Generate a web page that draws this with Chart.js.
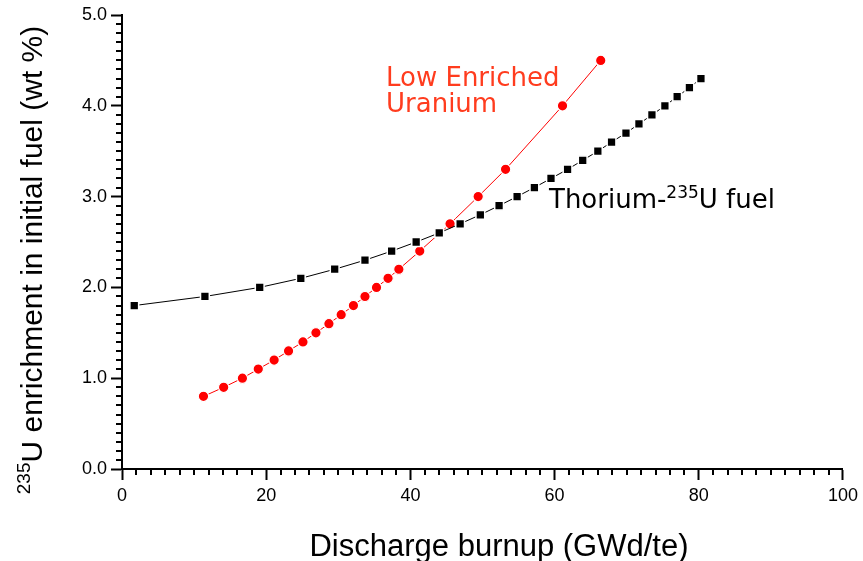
<!DOCTYPE html>
<html>
<head>
<meta charset="utf-8">
<script src="https://cdn.jsdelivr.net/npm/chart.js@4/dist/chart.umd.min.js"></script>
<style>
  html, body { margin: 0; padding: 0; background: #fff; }
  #wrap { width: 863px; height: 561px; }
</style>
</head>
<body>
<div id="wrap"><canvas id="chart" width="863" height="561"></canvas></div>
<script>
// values
const thoriumBurnup = [1.7, 11.5, 19.1, 24.8, 29.5, 33.7, 37.4, 40.8, 44.0, 46.9, 49.7, 52.3, 54.8,
  57.2, 59.5, 61.8, 63.9, 66.0, 67.9, 69.9, 71.7, 73.5, 75.3, 77.0, 78.7, 80.3];
const thoriumEnrich = [1.8, 1.9, 2.0, 2.1, 2.2, 2.3, 2.4, 2.5, 2.6, 2.7, 2.8, 2.9, 3.0,
  3.1, 3.2, 3.3, 3.4, 3.5, 3.6, 3.7, 3.8, 3.9, 4.0, 4.1, 4.2, 4.3];

const leuBurnup = [11.3, 14.1, 16.7, 18.9, 21.1, 23.1, 25.1, 26.9, 28.7, 30.4, 32.1, 33.7, 35.3,
  36.9, 38.4, 41.3, 45.5, 49.4, 53.2, 61.1, 66.4];
const leuEnrich = [0.8, 0.9, 1.0, 1.1, 1.2, 1.3, 1.4, 1.5, 1.6, 1.7, 1.8, 1.9, 2.0,
  2.1, 2.2, 2.4, 2.7, 3.0, 3.3, 4.0, 4.5];

const xTicks = [0, 20, 40, 60, 80, 100];
const yTicks = [0, 1, 2, 3, 4, 5];

const xTitle = 'Discharge burnup (GWd/te)';
const yTitleSup = '235';
const yTitle = 'U enrichment in initial fuel (wt %)';
const leuLabel = ['Low Enriched', 'Uranium'];
const thLabel = ['Thorium-', '235', 'U fuel'];

const AXIS_FONT = '"Liberation Sans", Arial, sans-serif';
const NOTE_FONT = '"DejaVu Sans", Verdana, sans-serif';

function toPoints(xs, ys) {
  return xs.map((x, i) => ({ x: x, y: ys[i] }));
}

// text with a superscript part: [before, sup, after]
function drawSup(ctx, x, y, parts, size, supSize, rise) {
  ctx.textBaseline = 'alphabetic';
  ctx.textAlign = 'left';
  ctx.font = size + 'px ' + NOTE_FONT;
  ctx.fillText(parts[0], x, y);
  x += ctx.measureText(parts[0]).width;
  ctx.font = supSize + 'px ' + NOTE_FONT;
  ctx.fillText(parts[1], x, y - rise);
  x += ctx.measureText(parts[1]).width;
  ctx.font = size + 'px ' + NOTE_FONT;
  ctx.fillText(parts[2], x, y);
}

const extras = {
  id: 'extras',
  afterDraw(chart) {
    const ctx = chart.ctx;
    const xs = chart.scales.x, ys = chart.scales.y;
    ctx.save();
    // minor ticks
    ctx.strokeStyle = '#000';
    ctx.lineWidth = 2;
    ctx.beginPath();
    for (let v = 0; v <= 100; v += 2) {
      if (v % 20 === 0) continue;
      const px = Math.round(xs.getPixelForValue(v));
      ctx.moveTo(px, xs.top);
      ctx.lineTo(px, xs.top + 6);
    }
    for (let k = 0; k <= 50; k++) {
      if (k % 10 === 0) continue;
      const py = Math.round(ys.getPixelForValue(k / 10));
      ctx.moveTo(ys.right, py);
      ctx.lineTo(ys.right - 6, py);
    }
    ctx.stroke();

    // axis titles
    ctx.fillStyle = '#000';
    ctx.font = '31px ' + AXIS_FONT;
    ctx.textAlign = 'center';
    ctx.textBaseline = 'alphabetic';
    ctx.fillText(xTitle, 499, 556);

    ctx.save();
    ctx.translate(42, 260);
    ctx.rotate(-Math.PI / 2);
    ctx.font = '30px ' + AXIS_FONT;
    const wMain = ctx.measureText(yTitle).width;
    ctx.font = '19px ' + AXIS_FONT;
    const wSup = ctx.measureText(yTitleSup).width;
    const start = -(wMain + wSup) / 2;
    ctx.textAlign = 'left';
    ctx.fillText(yTitleSup, start, -12);
    ctx.font = '30px ' + AXIS_FONT;
    ctx.fillText(yTitle, start + wSup, 0);
    ctx.restore();

    // series notes
    ctx.fillStyle = '#ff3c1e';
    ctx.font = '26px ' + NOTE_FONT;
    ctx.textAlign = 'left';
    ctx.fillText(leuLabel[0], 386, 86);
    ctx.fillText(leuLabel[1], 386, 112);

    ctx.fillStyle = '#000';
    drawSup(ctx, 549, 208, thLabel, 26, 17, 10);
    ctx.restore();
  }
};

new Chart(document.getElementById('chart'), {
  type: 'scatter',
  data: {
    datasets: [
      {
        label: 'Thorium-235U fuel',
        data: toPoints(thoriumBurnup, thoriumEnrich),
        showLine: true,
        borderColor: '#000',
        borderWidth: 1,
        pointStyle: 'rect',
        pointRadius: 6.2,
        pointBackgroundColor: '#000',
        pointBorderColor: '#fff',
        pointBorderWidth: 1.5
      },
      {
        label: 'Low Enriched Uranium',
        data: toPoints(leuBurnup, leuEnrich),
        showLine: true,
        borderColor: '#ff0000',
        borderWidth: 1,
        pointStyle: 'circle',
        pointRadius: 5.2,
        pointBackgroundColor: '#ff0000',
        pointBorderColor: '#fff',
        pointBorderWidth: 1.2
      }
    ]
  },
  options: {
    responsive: false,
    animation: false,
    layout: { padding: { top: 15, right: 19, left: 0, bottom: 0 } },
    plugins: { legend: { display: false }, tooltip: { enabled: false } },
    scales: {
      x: {
        type: 'linear',
        min: 0, max: 100,
        afterBuildTicks: s => { s.ticks = xTicks.map(v => ({ value: v })); },
        afterFit: s => { s.height = 92; },
        grid: { display: true, drawOnChartArea: false, drawTicks: true, tickLength: 11, tickWidth: 2, tickColor: '#000' },
        border: { display: true, color: '#000', width: 2 },
        ticks: { color: '#000', padding: 5, font: { family: AXIS_FONT, size: 18 }, maxRotation: 0 }
      },
      y: {
        type: 'linear',
        min: 0, max: 5,
        afterBuildTicks: s => { s.ticks = yTicks.map(v => ({ value: v })); },
        afterFit: s => { s.width = 122; },
        grid: { display: true, drawOnChartArea: false, drawTicks: true, tickLength: 11, tickWidth: 2, tickColor: '#000' },
        border: { display: true, color: '#000', width: 2 },
        ticks: { color: '#000', padding: 4, font: { family: AXIS_FONT, size: 18 }, callback: v => v.toFixed(1) }
      }
    }
  },
  plugins: [extras]
});
</script>
</body>
</html>
